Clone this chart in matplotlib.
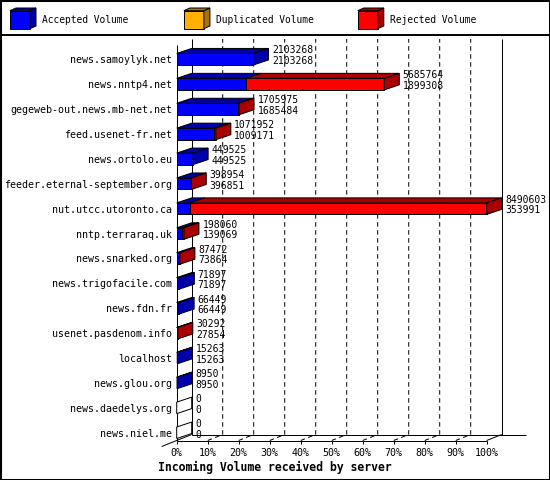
import matplotlib
matplotlib.use('Agg')
import matplotlib.pyplot as plt
from matplotlib.patches import Polygon, Rectangle

# data (top label = total volume, bottom label = accepted)
servers = ['news.samoylyk.net', 'news.nntp4.net', 'gegeweb-out.news.mb-net.net',
           'feed.usenet-fr.net', 'news.ortolo.eu', 'feeder.eternal-september.org',
           'nut.utcc.utoronto.ca', 'nntp.terraraq.uk', 'news.snarked.org',
           'news.trigofacile.com', 'news.fdn.fr', 'usenet.pasdenom.info',
           'localhost', 'news.glou.org', 'news.daedelys.org', 'news.niel.me']
total = [2103268, 5685764, 1705975, 1071952, 449525, 398954, 8490603, 198060,
         87472, 71897, 66449, 30292, 15263, 8950, 0, 0]
accepted = [2103268, 1899308, 1685484, 1009171, 449525, 396851, 353991, 139069,
            73864, 71897, 66449, 27854, 15263, 8950, 0, 0]
duplicated = [0, 0, 0, 0, 0, 0, 0, 0, 0, 0, 0, 0, 0, 0, 0, 0]
rejected = [0, 3786456, 20491, 62781, 0, 2103, 8136612, 58991, 13608, 0, 0,
            2438, 0, 0, 0, 0]
series_names = ['Accepted Volume', 'Duplicated Volume', 'Rejected Volume']
pct_ticks = [0, 10, 20, 30, 40, 50, 60, 70, 80, 90, 100]
xlabel = 'Incoming Volume received by server'

# colours: front face, top/side face
fronts = ['#0000ff', '#ffb000', '#ff0000']
darks = ['#0000aa', '#aa7400', '#aa0000']

W, H = 550, 480
FONT = 'DejaVu Sans Mono'
LW = 0.72  # one pixel

fig = plt.figure(figsize=(W / 100, H / 100), dpi=100)
fig.patch.set_facecolor('white')

# plot area in pixels (front plane)
px_left, px_right, px_top, px_bot = 176.7, 486.7, 45.0, 440.5
ax = fig.add_axes([px_left / W, (H - px_bot) / H, (px_right - px_left) / W, (px_bot - px_top) / H])
ax.set_xlim(0, 100)
y_top, y_bot = -0.57, 15.31
ax.set_ylim(y_bot, y_top)
for s in ax.spines.values():
    s.set_visible(False)
ax.patch.set_alpha(0)

row_px = (px_bot - px_top) / (y_bot - y_top)
DX = 15 / (px_right - px_left) * 100   # depth in x data units
DY = 5 / row_px                       # bar depth in rows
WDY = 6 / row_px                      # wall depth in rows
BH = 11.5 / row_px                    # bar height

scale = 100.0 / max(total)

line_kw = dict(color='black', lw=LW, clip_on=False, solid_capstyle='butt')
# walls and floor
ax.plot([0, 0], [y_bot, y_top], zorder=2, **line_kw)
ax.plot([DX, DX], [y_bot - WDY, y_top - WDY], zorder=2, **line_kw)
ax.plot([100 + DX, 100 + DX], [y_bot - WDY, y_top - WDY], zorder=2, **line_kw)
ax.plot([0, 100], [y_bot, y_bot], zorder=2, **line_kw)
ax.plot([DX, 100 + 2.6 * DX], [y_bot - WDY, y_bot - WDY], zorder=2, **line_kw)
ax.plot([-DX, DX], [y_bot + WDY, y_bot - WDY], zorder=2, **line_kw)
ax.plot([100, 100 + DX], [y_bot, y_bot - WDY], zorder=2, **line_kw)

# dashed grid: along the floor then up the back wall
for p in pct_ticks[1:-1]:
    ax.plot([p, p + DX, p + DX], [y_bot, y_bot - WDY, y_top - WDY], color='black',
            lw=LW, linestyle=(0, (4.5, 3.5)), clip_on=False, zorder=1)

# bars
for i in range(len(servers)):
    left = 0.0
    last_dark = None
    top = i - BH / 2
    bot = i + BH / 2
    for vals, fc, dc in zip([accepted, duplicated, rejected], fronts, darks):
        if vals[i] == 0:
            continue
        w = vals[i] * scale
        ax.barh(i, w, left=left, height=BH, color=fc, edgecolor='black', lw=LW,
                clip_on=False, zorder=3)
        ax.add_patch(Polygon([(left, top), (left + w, top), (left + w + DX, top - DY),
                              (left + DX, top - DY)], closed=True, fc=dc, ec='black',
                             lw=LW, clip_on=False, zorder=3))
        left += w
        last_dark = dc
    ax.add_patch(Polygon([(left, top), (left + DX, top - DY), (left + DX, bot - DY),
                          (left, bot)], closed=True, fc=last_dark or 'white',
                         ec='black', lw=LW, clip_on=False, zorder=3))
    end = total[i] * scale + DX
    ax.annotate(str(total[i]), xy=(end, i), xytext=(2.5, 6.3), textcoords='offset points',
                ha='left', va='center', fontsize=7, family=FONT, zorder=4,
                annotation_clip=False)
    ax.annotate(str(accepted[i]), xy=(end, i), xytext=(2.5, -1.3), textcoords='offset points',
                ha='left', va='center', fontsize=7, family=FONT, zorder=4,
                annotation_clip=False)

ax.set_yticks(range(len(servers)))
ax.set_yticklabels(servers, fontsize=7.2, family=FONT)
ax.tick_params(axis='y', length=0, pad=3.2)
ax.set_xticks(pct_ticks)
ax.set_xticklabels([f'{p}%' for p in pct_ticks], fontsize=7.2, family=FONT)
ax.tick_params(axis='x', length=2.2, width=LW, pad=3.0, direction='out')

fig.text(0.5, (H - 467.7) / H, xlabel, ha='center', va='center', fontsize=8.3,
         family=FONT, weight='bold')

# legend band in pixel coordinates
lax = fig.add_axes([0, (H - 35) / H, 1, 35 / H])
lax.set_xlim(0, W)
lax.set_ylim(35, 0)
lax.axis('off')
lax.plot([0, W], [35, 35], color='black', lw=1.4, clip_on=False)
for k, (name, fc, dc) in enumerate(zip(series_names, fronts, darks)):
    x0 = 10 + 173.9 * k
    lax.add_patch(Rectangle((x0, 10.7), 20, 18, fc=fc, ec='black', lw=LW))
    lax.add_patch(Polygon([(x0 + 20, 10.7), (x0 + 26, 8), (x0 + 26, 26), (x0 + 20, 28.7)],
                          closed=True, fc=dc, ec='black', lw=LW))
    lax.add_patch(Polygon([(x0, 10.7), (x0 + 6, 8), (x0 + 26, 8), (x0 + 20, 10.7)],
                          closed=True, fc=dc, ec='black', lw=LW))
    lax.text(x0 + 32.5, 20.3, name, ha='left', va='center', fontsize=6.9, family=FONT)

# outer frame
fig.patches.append(Rectangle((0, 0), 1, 1, transform=fig.transFigure, fill=False,
                             ec='black', lw=2.2))

fig.savefig('out.png', dpi=100)
